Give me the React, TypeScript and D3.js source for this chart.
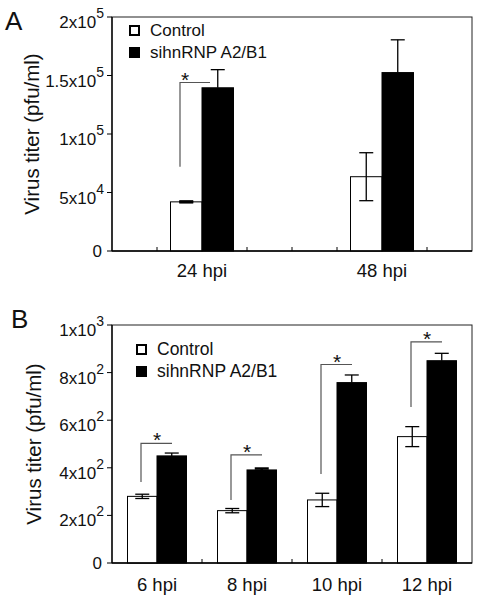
import React from "react";
import * as d3 from "d3";

const seriesNames = ["Control", "sihnRNP A2/B1"];

// Panel A
const catsA = ["24 hpi", "48 hpi"];
const controlA = [42000, 63500];
const controlErrA = [400, 20500];
const siA = [139500, 152500];
const siErrA = [15500, 28000];
const ticksA = [0, 50000, 100000, 150000, 200000];
const tickBaseA = ["0", "5x10", "1x10", "1.5x10", "2x10"];
const tickExpA = ["", "4", "5", "5", "5"];
const sigCatsA = ["24 hpi"];
const sigLowA = [72000];
const sigHighA = [144000];

// Panel B
const catsB = ["6 hpi", "8 hpi", "10 hpi", "12 hpi"];
const controlB = [280, 220, 265, 531];
const controlErrB = [9, 9, 28, 42];
const siB = [450, 391, 758, 850];
const siErrB = [12, 6, 32, 31];
const ticksB = [0, 200, 400, 600, 800, 1000];
const tickBaseB = ["0", "2x10", "4x10", "6x10", "8x10", "1x10"];
const tickExpB = ["", "2", "2", "2", "2", "3"];
const sigCatsB = ["6 hpi", "8 hpi", "10 hpi", "12 hpi"];
const sigLowB = [340, 265, 374, 655];
const sigHighB = [503, 454, 834, 929];

const FONT = "'Liberation Sans', Arial, Helvetica, sans-serif";

type PanelProps = {
  letter: string;
  letterX: number;
  letterY: number;
  cats: string[];
  control: number[];
  controlErr: number[];
  si: number[];
  siErr: number[];
  ticks: number[];
  tickBase: string[];
  tickExp: string[];
  sigCats: string[];
  sigLow: number[];
  sigHigh: number[];
  sigX1: number;
  sigX2: number;
  starDx: number;
  top: number;
  bottom: number;
  barW: number;
  titleX: number;
  xLabelY: number;
  legendX: number;
  legendY: number;
  legendFont: number;
  legendGap: number;
};

const LEFT = 112;
const RIGHT = 472;

function Panel(p: PanelProps) {
  const x = d3.scaleBand<string>().domain(p.cats).range([LEFT, RIGHT]).padding(0);
  const y = d3
    .scaleLinear()
    .domain([0, p.ticks[p.ticks.length - 1]])
    .range([p.bottom, p.top]);
  const inner = d3.scaleBand<string>().domain(seriesNames).range([-p.barW, p.barW]);
  const xt = d3.scaleLinear().domain([0, 8]).range([LEFT, RIGHT]);
  const minor = d3.range(1, 8);
  const bars = p.cats.flatMap((c, i) => [
    { cat: c, s: seriesNames[0], v: p.control[i], e: p.controlErr[i] },
    { cat: c, s: seriesNames[1], v: p.si[i], e: p.siErr[i] },
  ]);
  const cx = (c: string) => (x(c) as number) + x.bandwidth() / 2;
  const cap = 7;
  return (
    <g fontFamily={FONT}>
      <text x={p.letterX} y={p.letterY} fontSize={26} fill="#111">
        {p.letter}
      </text>
      {minor.map((m) => (
        <line
          key={"xt" + m}
          x1={xt(m)}
          x2={xt(m)}
          y1={p.bottom}
          y2={p.bottom - 4}
          stroke="#000"
          strokeWidth={1}
        />
      ))}
      <rect
        x={LEFT}
        y={p.top}
        width={RIGHT - LEFT}
        height={p.bottom - p.top}
        fill="none"
        stroke="#222"
        strokeWidth={1}
      />
      {bars.map((b, i) => {
        const bx = cx(b.cat) + (inner(b.s) as number);
        const isCtrl = b.s === seriesNames[0];
        return (
          <rect
            key={"b" + i}
            x={bx}
            y={y(b.v)}
            width={inner.bandwidth()}
            height={p.bottom - y(b.v)}
            fill={isCtrl ? "#fff" : "#000"}
            stroke="#000"
            strokeWidth={1}
          />
        );
      })}
      {bars.map((b, i) => {
        const ex = cx(b.cat) + (inner(b.s) as number) + inner.bandwidth() / 2;
        const isCtrl = b.s === seriesNames[0];
        const yTop = y(b.v + b.e);
        const yBot = isCtrl ? y(b.v - b.e) : y(b.v);
        const thin = p.bottom - y(b.e) < 2;
        return (
          <g key={"e" + i} stroke="#000" strokeWidth={thin ? 2.5 : 1.3}>
            <line x1={ex} x2={ex} y1={yTop} y2={yBot} />
            <line x1={ex - cap} x2={ex + cap} y1={yTop} y2={yTop} />
            {isCtrl && <line x1={ex - cap} x2={ex + cap} y1={yBot} y2={yBot} />}
          </g>
        );
      })}
      {p.sigCats.map((c, i) => {
        const x1 = cx(c) + p.sigX1;
        const x2 = cx(c) + p.sigX2;
        const yl = y(p.sigLow[i]);
        const yh = y(p.sigHigh[i]);
        return (
          <g key={"s" + i}>
            <polyline
              points={`${x1},${yl} ${x1},${yh} ${x2},${yh}`}
              fill="none"
              stroke="#555"
              strokeWidth={1.2}
            />
            <text
              x={cx(c) + p.starDx}
              y={yh + 4}
              fontSize={21}
              textAnchor="middle"
              fill="#111"
            >
              *
            </text>
          </g>
        );
      })}
      <line x1={LEFT} x2={LEFT} y1={p.top} y2={p.bottom} stroke="#000" strokeWidth={1.3} />
      <line x1={LEFT} x2={RIGHT} y1={p.bottom} y2={p.bottom} stroke="#000" strokeWidth={1.3} />
      {p.ticks.map((t, i) => (
        <g key={"yt" + i}>
          <line x1={LEFT - 5} x2={LEFT} y1={y(t)} y2={y(t)} stroke="#000" strokeWidth={1} />
          {p.tickExp[i] === "" ? (
            <text x={102} y={y(t) + 6} fontSize={17} textAnchor="end" fill="#111">
              {p.tickBase[i]}
            </text>
          ) : (
            <text x={104} y={y(t) + 11} fontSize={17} textAnchor="end" fill="#111">
              {p.tickBase[i]}
              <tspan dy={-10} fontSize={14}>
                {p.tickExp[i]}
              </tspan>
            </text>
          )}
        </g>
      ))}
      {p.cats.map((c) => (
        <text
          key={"xl" + c}
          x={cx(c)}
          y={p.xLabelY}
          fontSize={18.5}
          textAnchor="middle"
          fill="#111"
        >
          {c}
        </text>
      ))}
      <text
        transform={`translate(${p.titleX},${(p.top + p.bottom) / 2}) rotate(-90)`}
        fontSize={20.5}
        textAnchor="middle"
        fill="#111"
      >
        Virus titer (pfu/ml)
      </text>
      {seriesNames.map((s, i) => {
        const ly = p.legendY + i * p.legendGap;
        const isCtrl = i === 0;
        return (
          <g key={"lg" + i}>
            <rect
              x={p.legendX + (isCtrl ? 1 : 0)}
              y={ly - 11 + (isCtrl ? 1 : 0)}
              width={isCtrl ? 9 : 11}
              height={isCtrl ? 9 : 11}
              fill={isCtrl ? "#fff" : "#000"}
              stroke="#000"
              strokeWidth={isCtrl ? 2 : 0}
            />
            <text x={p.legendX + 21} y={ly} fontSize={p.legendFont} fill="#111">
              {s}
            </text>
          </g>
        );
      })}
    </g>
  );
}

export default function App() {
  return (
    <svg
      width={482}
      height={599}
      style={{ position: "absolute", left: 0, top: 0, background: "#fff" }}
    >
      <rect x={0} y={0} width={482} height={599} fill="#fff" />
      <Panel
        letter="A"
        letterX={5}
        letterY={30}
        cats={catsA}
        control={controlA}
        controlErr={controlErrA}
        si={siA}
        siErr={siErrA}
        ticks={ticksA}
        tickBase={tickBaseA}
        tickExp={tickExpA}
        sigCats={sigCatsA}
        sigLow={sigLowA}
        sigHigh={sigHighA}
        sigX1={-22}
        sigX2={8}
        starDx={-17}
        top={17}
        bottom={251}
        barW={31.5}
        titleX={39}
        xLabelY={277}
        legendX={129}
        legendY={36}
        legendFont={17}
        legendGap={22}
      />
      <Panel
        letter="B"
        letterX={11}
        letterY={328}
        cats={catsB}
        control={controlB}
        controlErr={controlErrB}
        si={siB}
        siErr={siErrB}
        ticks={ticksB}
        tickBase={tickBaseB}
        tickExp={tickExpB}
        sigCats={sigCatsB}
        sigLow={sigLowB}
        sigHigh={sigHighB}
        sigX1={-16}
        sigX2={15}
        starDx={0}
        top={325}
        bottom={563}
        barW={29.5}
        titleX={41}
        xLabelY={591}
        legendX={136}
        legendY={355}
        legendFont={17.5}
        legendGap={22}
      />
    </svg>
  );
}
